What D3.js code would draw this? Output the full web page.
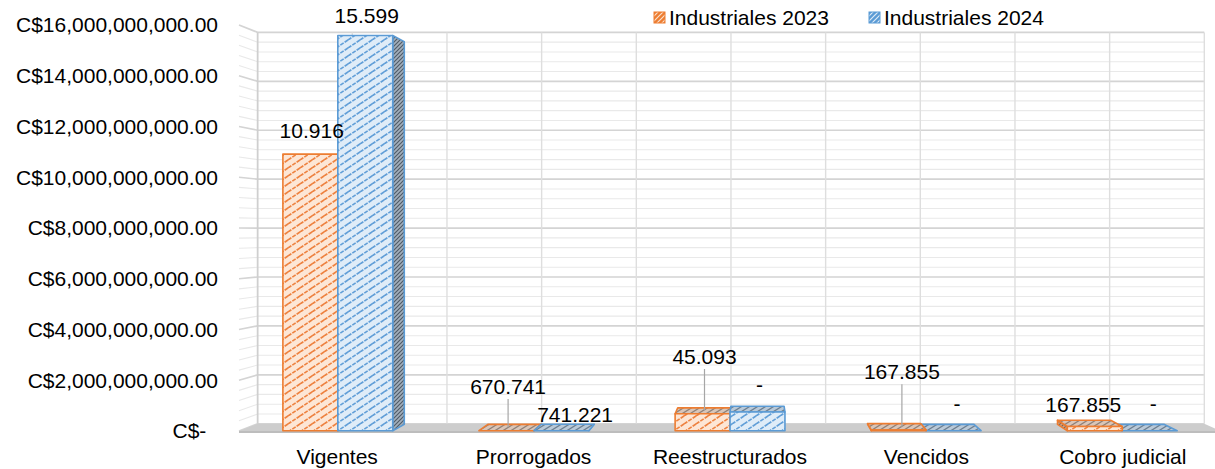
<!DOCTYPE html>
<html>
<head>
<meta charset="utf-8">
<script src="https://cdn.jsdelivr.net/npm/d3@7.9.0/dist/d3.min.js"></script>
<style>
  body { margin: 0; background: #fff; }
  svg { display: block; font-family: "Liberation Sans", Arial, sans-serif; }
</style>
</head>
<body>
<svg id="chart" width="1215" height="469"></svg>
<script>
// data
const categories = ["Vigentes", "Prorrogados", "Reestructurados", "Vencidos", "Cobro judicial"];
const seriesNames = ["Industriales 2023", "Industriales 2024"];
const values2023 = [10916000000, 670741, 670000000, 30000000, 167855000];
const values2024 = [15599000000, 741221, 740000000, 0, 0];
const labels2023 = ["10.916", "670.741", "45.093", "167.855", "167.855"];
const labels2024 = ["15.599", "741.221", "-", "-", "-"];
const yTicks = [0, 2e9, 4e9, 6e9, 8e9, 10e9, 12e9, 14e9, 16e9];
const yTickLabels = ["C$-  ", "C$2,000,000,000.00", "C$4,000,000,000.00", "C$6,000,000,000.00",
  "C$8,000,000,000.00", "C$10,000,000,000.00", "C$12,000,000,000.00", "C$14,000,000,000.00",
  "C$16,000,000,000.00"];

// label nudges (layout only): [dx, dy, leader line]
const nudge2023 = [[2, -4, false], [2, -25, true], [2, -38, true], [3, -39, true], [-12, -3, false]];
const nudge2024 = [[2, 0, false], [14, 3, false], [2, -8, false], [3, -8, false], [3, -8, false]];

const svg = d3.select("#chart");
const defs = svg.append("defs");

// simple perspective: d = 0 front plane, d = 1 back wall
const VX = 757, VY = 230, T = 0.036;
const proj = (px, py, d) => [px + d * T * (VX - px), py + d * T * (VY - py)];
const poly = pts => "M" + pts.map(p => p.join(",")).join("L") + "Z";

const x = d3.scaleBand().domain(categories).range([239, 1221]);
const xs = d3.scaleBand().domain([0, 1]).range([0, 110]);
const y = d3.scaleLinear().domain([0, 16e9]).range([431, 25]);
const x0 = x.range()[0], x1 = x.range()[1];

// tile w x h with one rising stripe, continuous across tiles
function hatch(id, bg, fg, w, h, sw, dash) {
  const p = defs.append("pattern").attr("id", id)
    .attr("patternUnits", "userSpaceOnUse")
    .attr("width", w).attr("height", h);
  p.append("rect").attr("width", w).attr("height", h).attr("fill", bg);
  p.append("path")
    .attr("d", `M0,${h}L${w},0M${-w / 4},${h / 4}L${w / 4},${-h / 4}M${3 * w / 4},${5 * h / 4}L${5 * w / 4},${3 * h / 4}`)
    .attr("stroke", fg).attr("stroke-width", sw)
    .attr("stroke-dasharray", dash || null);
}
hatch("oFront", "#fde6d5", "#ee8240", 12, 8, 1.7, "4,1.2");
hatch("bFront", "#dfecf8", "#629fd8", 12, 8, 1.7, "4,1.2");
hatch("oSide", "#c9a58c", "#80624f", 4, 4, 1.2);
hatch("bSide", "#a3b0bd", "#505c68", 4, 4, 1.2);
hatch("oTop", "#d9c5b8", "#8f8178", 8, 5, 1.3);
hatch("bTop", "#b9c9d8", "#6d7f90", 8, 5, 1.3);
hatch("oLeg", "#ed7d31", "#fbe0cc", 5, 5, 1.2);
hatch("bLeg", "#5b9bd5", "#deebf7", 5, 5, 1.2);

const colors = ["#ed7d31", "#5b9bd5"];
const fills = [["oFront", "oSide", "oTop"], ["bFront", "bSide", "bTop"]];

// back wall and left side wall
svg.append("path")
  .attr("d", poly([proj(x0, 25, 1), proj(x1, 25, 1), proj(x1, 431, 1), proj(x0, 431, 1)]))
  .attr("fill", "#fff");

const minor = d3.range(0, 16e9 + 1, 4e8);
const grid = svg.append("g");
minor.forEach(v => {
  const major = Math.round(v / 4e8) % 5 === 0;
  const a = proj(x0, y(v), 1), b = proj(x1, y(v), 1), c = proj(x0, y(v), 0);
  grid.append("path")
    .attr("d", `M${c}L${a}L${b}`)
    .attr("fill", "none")
    .attr("stroke", major ? "#d4d4d4" : "#e9e9e9")
    .attr("stroke-width", major ? 1.7 : 1.1);
});
const vlines = [];
categories.forEach(c => { vlines.push(x(c), x(c) + x.bandwidth() / 2); });
vlines.push(x1);
vlines.forEach((vx, i) => {
  const a = proj(vx, 25, 1), b = proj(vx, 431, 1);
  grid.append("line")
    .attr("x1", a[0]).attr("y1", a[1]).attr("x2", b[0]).attr("y2", b[1])
    .attr("stroke", i === 0 ? "#cfcfcf" : "#dedede")
    .attr("stroke-width", i === 0 ? 1.8 : 1.4);
});

// floor
svg.append("path")
  .attr("d", poly([proj(x0, 431, 0), proj(x1, 431, 0), proj(x1, 431, 1), proj(x0, 431, 1)]))
  .attr("fill", "#cdcdcd");
svg.append("rect").attr("x", x0).attr("y", 431).attr("width", x1 - x0).attr("height", 2)
  .attr("fill", "#bdbdbd");

// bars
const bars = [];
categories.forEach((c, i) => {
  [values2023[i], values2024[i]].forEach((v, s) => {
    const bx0 = x(c) + (x.bandwidth() - 110) / 2 + xs(s);
    bars.push({ i, s, v, bx0, bx1: bx0 + xs.bandwidth() });
  });
});
bars.sort((a, b) => Math.abs((b.bx0 + b.bx1) / 2 - VX) - Math.abs((a.bx0 + a.bx1) / 2 - VX));

const d0 = 0.04, d1 = 0.92;
const barG = svg.append("g");
bars.forEach(b => {
  const yt = y(b.v), yb = y(0);
  const col = colors[b.s], f = fills[b.s];
  const face = (pts, fill) => barG.append("path").attr("d", poly(pts))
    .attr("fill", `url(#${fill})`).attr("stroke", col).attr("stroke-width", 1.6)
    .attr("stroke-linejoin", "round");
  if (b.bx1 < VX) {
    face([proj(b.bx1, yt, d0), proj(b.bx1, yt, d1), proj(b.bx1, yb, d1), proj(b.bx1, yb, d0)], f[1]);
  } else if (b.bx0 > VX) {
    face([proj(b.bx0, yt, d0), proj(b.bx0, yt, d1), proj(b.bx0, yb, d1), proj(b.bx0, yb, d0)], f[1]);
  }
  if (yt > VY) {
    face([proj(b.bx0, yt, d0), proj(b.bx1, yt, d0), proj(b.bx1, yt, d1), proj(b.bx0, yt, d1)], f[2]);
  }
  if (yb - yt > 0.5) {
    face([proj(b.bx0, yt, d0), proj(b.bx1, yt, d0), proj(b.bx1, yb, d0), proj(b.bx0, yb, d0)], f[0]);
  }
});

// data labels
const labG = svg.append("g").attr("font-size", 21).attr("fill", "#000");
bars.forEach(b => {
  const txt = b.s === 0 ? labels2023[b.i] : labels2024[b.i];
  const n = b.s === 0 ? nudge2023[b.i] : nudge2024[b.i];
  const cx = (b.bx0 + b.bx1) / 2 + n[0];
  const base = y(b.v) - 12 + n[1];
  if (n[2]) {
    const end = proj(cx, y(b.v), 0.5);
    labG.append("line")
      .attr("x1", cx).attr("y1", base + 5).attr("x2", cx).attr("y2", end[1])
      .attr("stroke", "#a6a6a6").attr("stroke-width", 1.2);
  }
  labG.append("text").attr("x", cx).attr("y", base)
    .attr("text-anchor", "middle").text(txt);
});

// y axis labels
svg.append("g").attr("font-size", 21)
  .selectAll("text").data(yTicks).join("text")
  .attr("x", 218).attr("y", d => y(d)).attr("dy", "0.35em")
  .attr("text-anchor", "end").attr("xml:space", "preserve")
  .text((d, i) => yTickLabels[i]);

// category labels
svg.append("g").attr("font-size", 21)
  .selectAll("text").data(categories).join("text")
  .attr("x", d => x(d) + x.bandwidth() / 2).attr("y", 464)
  .attr("text-anchor", "middle").text(d => d);

// legend
const legX = [654, 869];
const leg = svg.append("g").attr("font-size", 21);
seriesNames.forEach((name, s) => {
  leg.append("rect").attr("x", legX[s]).attr("y", 12).attr("width", 11).attr("height", 11)
    .attr("fill", s === 0 ? "url(#oLeg)" : "url(#bLeg)")
    .attr("stroke", colors[s]).attr("stroke-width", 1);
  leg.append("text").attr("x", legX[s] + 15).attr("y", 25).text(name);
});
</script>
</body>
</html>
